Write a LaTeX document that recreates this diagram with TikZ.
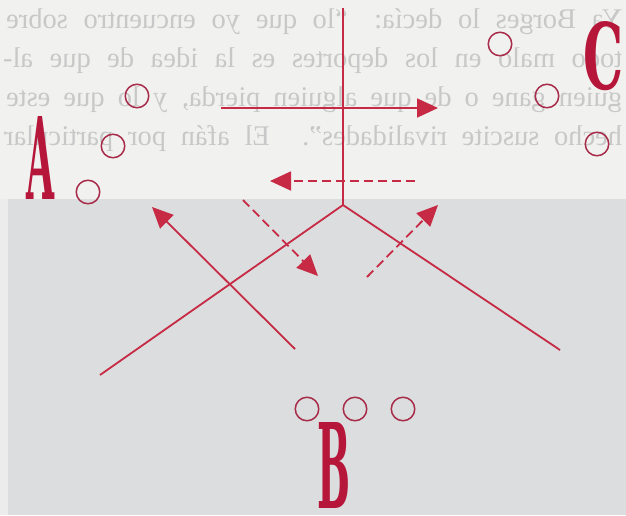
\documentclass[tikz,border=0pt]{standalone}
\usepackage{fontspec}
\usepackage{graphicx}
\usetikzlibrary{arrows.meta}
\newfontfamily\bgfont{Liberation Serif}
\newfontfamily\letterfont{DejaVu Serif}
\definecolor{paper}{RGB}{241,241,240}
\definecolor{field}{RGB}{219,221,222}
\definecolor{strip}{RGB}{236,236,236}
\definecolor{ghost}{RGB}{200,200,200}
\definecolor{mark}{RGB}{198,42,68}
\definecolor{ring}{RGB}{168,45,75}
\definecolor{letter}{RGB}{181,22,58}
\begin{document}
\begin{tikzpicture}[x=1pt,y=-1pt,
  redline/.style={draw=mark,line width=1.8pt},
  dashline/.style={redline,dash pattern=on 9pt off 5pt},
  tip/.style={-{Triangle[length=21pt,width=19pt]}},
  player/.style={circle,draw=ring,line width=1.5pt,minimum size=23.5pt,inner sep=0pt},
  ghostline/.style={anchor=base west,inner sep=0pt,text=ghost,font=\bgfont\fontsize{28.5}{28.5}\selectfont},
  team/.style={inner sep=0pt,text=letter,font=\letterfont\bfseries}
]
\useasboundingbox (0,0) rectangle (626,515);
\fill[paper] (0,0) rectangle (626,515);

% show-through text (mirrored)
\node[ghostline] (g1) at (6,28) {\reflectbox{\makebox[616pt][s]{Ya Borges lo decía: “lo que yo encuentro sobre}}};
\node[ghostline] (g2) at (3,67) {\reflectbox{\makebox[619pt][s]{todo malo en los deportes es la idea de que al-}}};
\node[ghostline] (g3) at (6,106) {\reflectbox{\makebox[616pt][s]{guien gane o de que alguien pierda, y lo que este}}};
\node[ghostline] (g4) at (4,145) {\reflectbox{\makebox[618pt][s]{hecho suscite rivalidades”. El afán por particular}}};

\fill[strip] (0,199) rectangle (8,515);
\fill[field] (8,199) rectangle (626,515);

% lines
\coordinate (top) at (343,8);
\coordinate (J) at (343,205);
\coordinate (L) at (100,375);
\coordinate (R) at (560,350);
\draw[redline] (top) -- (J);
\draw[redline] (L) -- (J) -- (R);

\coordinate (s1) at (221,108); \coordinate (t1) at (438,108);
\draw[redline,tip] (s1) -- (t1);
\coordinate (s2) at (415,181); \coordinate (t2) at (270,181);
\draw[dashline,tip] (s2) -- (t2);
\coordinate (s3) at (295,349); \coordinate (t3) at (152,207);
\draw[redline,tip] (s3) -- (t3);
\coordinate (s4) at (243,200); \coordinate (t4) at (318,276);
\draw[dashline,tip] (s4) -- (t4);
\coordinate (s5) at (367,277); \coordinate (t5) at (438,205);
\draw[dashline,tip] (s5) -- (t5);

% players
\node[player] (c1) at (500,44) {};
\node[player] (c2) at (547,96) {};
\node[player] (c3) at (597,144) {};
\node[player] (a1) at (137,96) {};
\node[player] (a2) at (113,146) {};
\node[player] (a3) at (88,192) {};
\node[player] (b1) at (307,409) {};
\node[player] (b2) at (355,409) {};
\node[player] (b3) at (403,409) {};

% team letters
\node[team] (A) at (41,158) {\resizebox{28pt}{83pt}{A}};
\node[team] (B) at (334,465) {\resizebox{33pt}{86pt}{B}};
\node[team] (C) at (603,56) {\resizebox{40pt}{68pt}{C}};
\end{tikzpicture}
\end{document}
